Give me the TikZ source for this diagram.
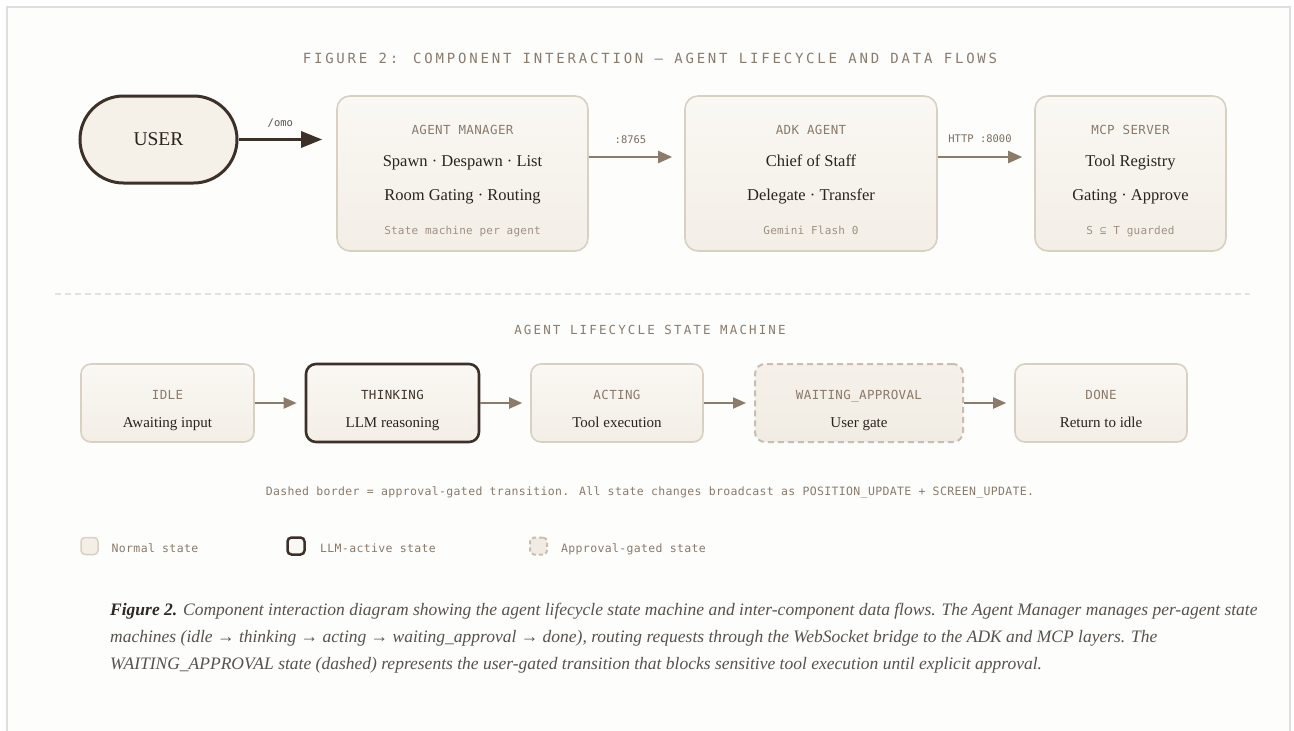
\documentclass[tikz,border=0pt]{standalone}
\usepackage{fontspec}
\setmainfont{Liberation Serif}
\newfontfamily\monoT[LetterSpace=20]{DejaVu Sans Mono}
\newfontfamily\monoS[LetterSpace=17]{DejaVu Sans Mono}
\newfontfamily\monoL[LetterSpace=3]{DejaVu Sans Mono}
\newfontfamily\monoM[LetterSpace=2]{DejaVu Sans Mono}
\newfontfamily\monoN[LetterSpace=3]{DejaVu Sans Mono}
\newfontfamily\monoE{DejaVu Sans Mono}
\usetikzlibrary{arrows.meta,calc}
\definecolor{frameline}{HTML}{DEDEDE}
\definecolor{framebg}{HTML}{FDFDFC}
\definecolor{boxline}{HTML}{D9D0C4}
\definecolor{boxtop}{HTML}{FAF8F4}
\definecolor{boxbot}{HTML}{F3EEE6}
\definecolor{darkline}{HTML}{3D3028}
\definecolor{userfill}{HTML}{F5F0E8}
\definecolor{arrowcol}{HTML}{8C7B69}
\definecolor{labcol}{HTML}{8A7A6A}
\definecolor{darklab}{HTML}{3F342C}
\definecolor{serifcol}{HTML}{2B231D}
\definecolor{smallcol}{HTML}{9E9182}
\definecolor{titlecol}{HTML}{8A7B6D}
\definecolor{edgecol}{HTML}{7A6D60}
\definecolor{sepcol}{HTML}{E6E1D9}
\definecolor{dashline}{HTML}{C9BDAF}
\definecolor{waittop}{HTML}{F5F1EA}
\definecolor{waitbot}{HTML}{F1ECE3}
\definecolor{capcol}{HTML}{57524C}
\definecolor{capbold}{HTML}{2F2924}
\begin{document}
\begin{tikzpicture}[x=1pt,y=-1pt,
  topbox/.style={draw=boxline, line width=1.6pt, rounded corners=13pt, top color=boxtop, bottom color=boxbot, inner sep=0pt, minimum height=155pt},
  statebox/.style={draw=boxline, line width=1.6pt, rounded corners=10pt, top color=boxtop, bottom color=boxbot, inner sep=0pt, minimum height=78pt},
  thinkbox/.style={statebox, draw=darkline, line width=2.6pt},
  waitbox/.style={statebox, draw=dashline, line width=2pt, dash pattern=on 6pt off 4pt, top color=waittop, bottom color=waitbot},
  userbox/.style={draw=darkline, line width=3pt, rounded corners=43.5pt, fill=userfill, minimum width=157pt, minimum height=87pt, inner sep=0pt, font=\fontsize{19.5}{22}\selectfont, text=serifcol},
  lab/.style={font=\monoL\fontsize{12.5}{14}\selectfont, text=labcol, inner sep=0pt, text height=9.1pt, text depth=0pt},
  serif/.style={font=\fontsize{16.5}{19}\selectfont, text=serifcol, inner sep=0pt, text height=10.9pt, text depth=0pt},
  desc/.style={font=\fontsize{15}{18}\selectfont, text=serifcol, inner sep=0pt, text height=9.9pt, text depth=0pt},
  small/.style={font=\monoM\fontsize{11}{13}\selectfont, text=smallcol, inner sep=0pt, text height=8pt, text depth=0pt},
  edgelab/.style={font=\monoE\fontsize{10.5}{12}\selectfont, text=edgecol, inner sep=0pt, text height=7.7pt, text depth=0pt},
  flow/.style={draw=arrowcol, line width=2.2pt, -{Triangle[length=14pt,width=12pt]}},
  sflow/.style={draw=arrowcol, line width=2pt, -{Triangle[length=13pt,width=11pt]}},
  uflow/.style={draw=darkline, line width=3pt, -{Triangle[length=21pt,width=16pt]}},
  note/.style={font=\monoN\fontsize{11.5}{13}\selectfont, text=labcol, inner sep=0pt, text height=8.4pt, text depth=0pt},
  leg/.style={font=\monoN\fontsize{11.5}{13}\selectfont, text=labcol, inner sep=0pt, text height=8.4pt, text depth=0pt, anchor=west},
  legsq/.style={minimum width=17pt, minimum height=17pt, inner sep=0pt, rounded corners=4pt},
  captxt/.style={font=\itshape\fontsize{17.5}{20}\selectfont, text=capcol, inner sep=0pt, anchor=base west}
]
\useasboundingbox (0,0) rectangle (1294,731);
\clip (0,0) rectangle (1294,731);
\fill[white] (0,0) rectangle (1294,731);
\draw[frameline, line width=2pt, fill=framebg] (7,7) rectangle (1290,760);

% title
\node[font=\monoT\fontsize{14}{16}\selectfont, text=titlecol, inner sep=0pt] (title) at (650,58) {FIGURE 2: COMPONENT INTERACTION — AGENT LIFECYCLE AND DATA FLOWS};

% top row
\node[userbox] (user) at (158.5,139.5) {USER};
\node[topbox, minimum width=251pt] (am) at (462.5,173.5) {};
\node[topbox, minimum width=252pt] (adk) at (811,173.5) {};
\node[topbox, minimum width=191pt] (mcp) at (1130.5,173.5) {};

\node[lab] (amL) at (462.5,130) {AGENT MANAGER};
\node[serif] (am1) at (462.5,161) {Spawn · Despawn · List};
\node[serif] (am2) at (462.5,195) {Room Gating · Routing};
\node[small] (am3) at (462.5,230) {State machine per agent};

\node[lab] (adkL) at (811,130) {ADK AGENT};
\node[serif] (adk1) at (811,161) {Chief of Staff};
\node[serif] (adk2) at (811,195) {Delegate · Transfer};
\node[small] (adk3) at (811,230) {Gemini Flash 0};

\node[lab] (mcpL) at (1130.5,130) {MCP SERVER};
\node[serif] (mcp1) at (1130.5,161) {Tool Registry};
\node[serif] (mcp2) at (1130.5,195) {Gating · Approve};
\node[small] (mcp3) at (1130.5,230) {S ⊆ T guarded};

\coordinate (uEnd) at ($(user.east -| am.west)+(-14,0)$);
\draw[uflow] (user.east) -- (uEnd) node[midway, edgelab, text=darklab!85, yshift=16.5pt] (omo) {/omo};
\coordinate (a1s) at ($(am.east)+(0,-16.5)$);
\coordinate (a1e) at ($(adk.west)+(-12,-16.5)$);
\draw[flow] (a1s) -- (a1e) node[midway, edgelab, yshift=17pt] (l8765) {:8765};
\coordinate (a2s) at ($(adk.east)+(0,-16.5)$);
\coordinate (a2e) at ($(mcp.west)+(-12,-16.5)$);
\draw[flow] (a2s) -- (a2e) node[midway, edgelab, yshift=18pt] (lhttp) {HTTP :8000};

% separator
\draw[sepcol, line width=1.3pt, dash pattern=on 6pt off 4pt] (55,294) -- (1250,294);

% state machine
\node[font=\monoS\fontsize{12.5}{14}\selectfont, text=titlecol, inner sep=0pt] (sub) at (650,330) {AGENT LIFECYCLE STATE MACHINE};

\node[statebox, minimum width=173pt] (idle) at (167.5,403) {};
\node[thinkbox, minimum width=173pt] (think) at (392.5,403) {};
\node[statebox, minimum width=172pt] (act) at (617,403) {};
\node[waitbox, minimum width=208pt] (wait) at (859,403) {};
\node[statebox, minimum width=172pt] (done) at (1101,403) {};

\node[lab] (idleL) at (167.5,395) {IDLE};
\node[desc] (idleD) at (167.5,423) {Awaiting input};
\node[lab, text=darklab] (thinkL) at (392.5,395) {THINKING};
\node[desc] (thinkD) at (392.5,423) {LLM reasoning};
\node[lab] (actL) at (617,395) {ACTING};
\node[desc] (actD) at (617,423) {Tool execution};
\node[lab] (waitL) at (859,395) {WAITING\_APPROVAL};
\node[desc] (waitD) at (859,423) {User gate};
\node[lab] (doneL) at (1101,395) {DONE};
\node[desc] (doneD) at (1101,423) {Return to idle};

\draw[sflow] (idle.east) -- ($(think.west)+(-8,0)$);
\draw[sflow] (think.east) -- ($(act.west)+(-8,0)$);
\draw[sflow] (act.east) -- ($(wait.west)+(-8,0)$);
\draw[sflow] (wait.east) -- ($(done.west)+(-8,0)$);

\node[note] (foot) at (650,491) {Dashed border = approval-gated transition. All state changes broadcast as POSITION\_UPDATE + SCREEN\_UPDATE.};

% legend
\node[legsq, draw=boxline, line width=1.5pt, fill=boxbot] (lg1) at (89.5,546) {};
\node[leg] (lt1) at (111.5,548) {Normal state};
\node[legsq, draw=darkline, line width=2.5pt, fill=boxtop] (lg2) at (296,546) {};
\node[leg] (lt2) at (320,548) {LLM-active state};
\node[legsq, draw=dashline, line width=2pt, dash pattern=on 4pt off 3pt, fill=waitbot] (lg3) at (538.5,546) {};
\node[leg] (lt3) at (561,548) {Approval-gated state};

% caption
\node[captxt] (cap1) at (110,615) {{\color{capbold}\bfseries Figure 2.} Component interaction diagram showing the agent lifecycle state machine and inter-component data flows. The Agent Manager manages per-agent state};
\node[captxt] (cap2) at (110,642) {machines (idle → thinking → acting → waiting\_approval → done), routing requests through the WebSocket bridge to the ADK and MCP layers. The};
\node[captxt] (cap3) at (110,669) {WAITING\_APPROVAL state (dashed) represents the user-gated transition that blocks sensitive tool execution until explicit approval.};
\end{tikzpicture}
\end{document}
